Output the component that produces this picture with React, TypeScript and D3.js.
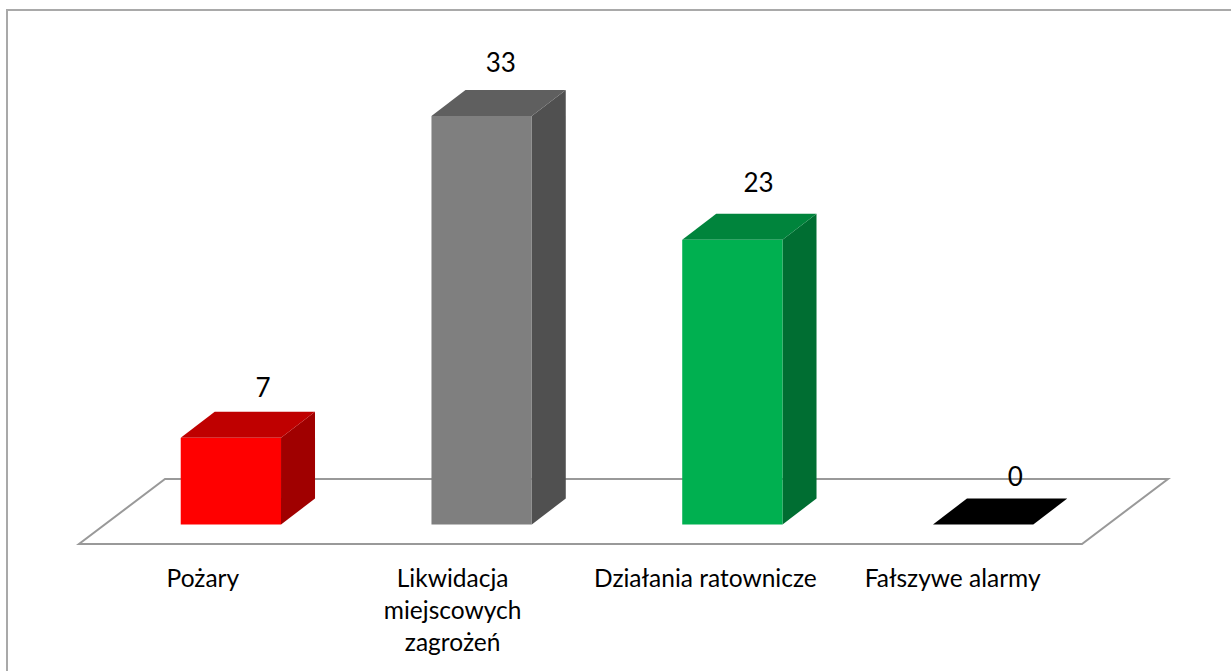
import React from "react";
import * as d3 from "d3";

const categories = ["Pożary", "Likwidacja miejscowych zagrożeń", "Działania ratownicze", "Fałszywe alarmy"];
const values = [7, 33, 23, 0];
const frontColors = ["#ff0000", "#7f7f7f", "#00b050", "#000000"];
const topColors = ["#bf0000", "#5f5f5f", "#00843c", "#000000"];
const sideColors = ["#a00000", "#505050", "#006e32", "#000000"];
const labelLines = [["Pożary"], ["Likwidacja", "miejscowych", "zagrożeń"], ["Działania ratownicze"], ["Fałszywe alarmy"]];

const width = 1231;
const height = 671;
const fontFamily = "Lato, 'Open Sans', sans-serif";

// floor of the 3d plot, front edge and how far the back edge is shifted
const floorLeft = 79;
const floorRight = 1082;
const floorY = 544;
const depthX = 86;
const depthY = 65;
// bars stand a bit back from the front edge of the floor
const barShiftX = 26.5;
const barShiftY = 19.5;
const dx = 34;
const dy = 26;

// hand placed in the original, so the nudges are not regular
const valueNudgeX = [-18, -31, -24, -18];
const valueNudgeY = [-41, -44, -48, -38.5];
const categoryNudgeX = [-1.5, -2.5, -0.5, -4];

const x = d3.scaleBand<string>().domain(categories).range([floorLeft, floorRight]).padding(0.6).paddingOuter(0.3);
const y = d3.scaleLinear().domain([0, 33]).range([floorY - barShiftY, 116]);

const poly = (pts: [number, number][]) => d3.line()(pts) + "Z";

export default function App() {
  return (
    <svg
      width={width}
      height={height}
      style={{ position: "absolute", left: 0, top: 0, background: "#fff" }}
      fontFamily={fontFamily}
    >
      <rect x={7} y={10} width={1300} height={700} fill="#fff" stroke="#a9a9a9" strokeWidth={2} />
      <path
        d={poly([
          [floorLeft, floorY],
          [floorRight, floorY],
          [floorRight + depthX, floorY - depthY],
          [floorLeft + depthX, floorY - depthY],
        ])}
        fill="none"
        stroke="#999"
        strokeWidth={2}
      />
      {categories.map((c, i) => {
        const x0 = x(c)! + barShiftX;
        const x1 = x0 + x.bandwidth();
        const y0 = y(0);
        const yv = y(values[i]);
        return (
          <g key={c}>
            <path d={poly([[x1, y0], [x1 + dx, y0 - dy], [x1 + dx, yv - dy], [x1, yv]])} fill={sideColors[i]} />
            <path d={poly([[x0, yv], [x1, yv], [x1 + dx, yv - dy], [x0 + dx, yv - dy]])} fill={topColors[i]} />
            <rect x={x0} y={yv} width={x.bandwidth()} height={y0 - yv} fill={frontColors[i]} />
            <text x={x1 + valueNudgeX[i]} y={yv + valueNudgeY[i]} textAnchor="middle" fontSize={26} fill="#000">
              {values[i]}
            </text>
          </g>
        );
      })}
      {categories.map((c, i) => (
        <text key={c} textAnchor="middle" fontSize={24.5} fill="#000">
          {labelLines[i].map((line, j) => (
            <tspan key={line} x={x(c)! + x.bandwidth() / 2 + categoryNudgeX[i]} y={587 + j * 32}>
              {line}
            </tspan>
          ))}
        </text>
      ))}
    </svg>
  );
}
